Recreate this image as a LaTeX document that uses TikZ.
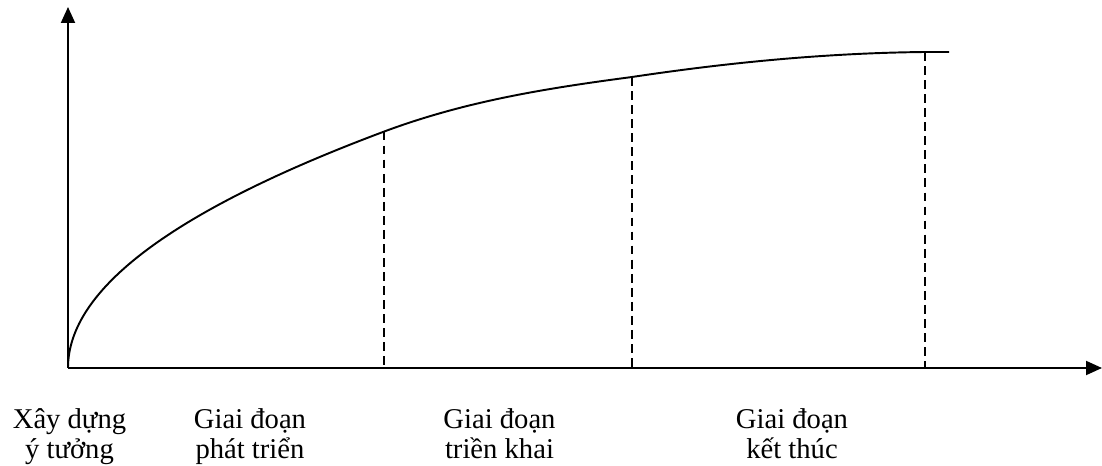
\documentclass[tikz,border=0pt]{standalone}
\usepackage{fontspec}
\setmainfont{Liberation Serif}
\usepackage{tikz}
\usetikzlibrary{arrows.meta}
\tikzset{
  axis/.style={line width=1.1pt,-{Triangle[length=0.32cm,width=0.28cm]}},
  guide/.style={line width=0.7pt,dash pattern=on 5pt off 3pt},
  phase/.style={align=center,anchor=north,inner sep=0pt}
}

\begin{document}
\begin{tikzpicture}[x=0.02cm,y=0.02cm,font=\fontsize{16.3}{17}\selectfont]
  \useasboundingbox (-68,-98) rectangle (1034,368);
  \coordinate (O) at (0,0);
  \coordinate (ytip) at (0,361);
  \coordinate (xtip) at (1034,0);
  \coordinate (c1) at (316,236.4);
  \coordinate (c2) at (564,291);
  \coordinate (c3) at (857,316);
  \coordinate (cend) at (881,316);
  \draw[axis] (O) -- (ytip);
  \draw[axis] (O) -- (xtip);
  % growth curve
  \draw[line width=1.1pt] (O) .. controls (0,78.8) and (105.3,157.6) .. (c1)
    .. controls (399,267.4) and (481,280) .. (c2)
    .. controls (662,305.7) and (759,315) .. (c3) -- (cend);
  \foreach \c in {c1,c2,c3}
    \draw[guide] (\c) -- (\c |- O);
  \foreach \x/\name/\txt in {1.5/idea/Xây dựng\\ý tưởng,182/grow/Giai đoạn\\phát triển,431.5/deploy/Giai đoạn\\triền khai,724/close/Giai đoạn\\kết thúc}
    \node[phase] (l\name) at (\x,-40) {\txt};
\end{tikzpicture}
\end{document}
